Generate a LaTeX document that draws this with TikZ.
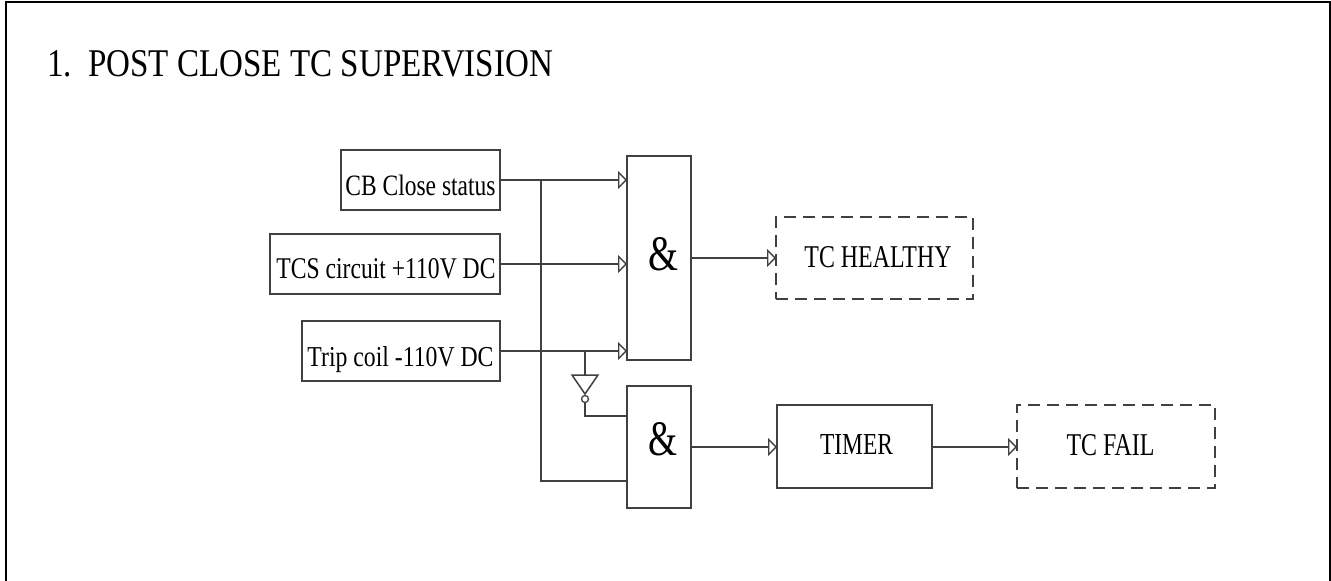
\documentclass[tikz,border=0pt]{standalone}
\usepackage{fontspec}
\setmainfont{Liberation Serif}
\usetikzlibrary{arrows.meta,calc}
\definecolor{ln}{HTML}{404040}
\newcommand{\txt}[3]{\resizebox{#1pt}{#2pt}{#3}}
\tikzset{
  every node/.style={inner sep=0pt,outer sep=0pt,text=black},
  blk/.style={draw=ln,line width=1.5pt,rectangle,minimum width=#1,anchor=north west},
  dbox/.style={blk=#1,dash pattern=on 12pt off 7pt},
  wire/.style={draw=ln,line width=1.5pt},
  arr/.style={wire,-{Triangle[open,length=9pt,width=18pt,line width=1.3pt]}},
}
\begin{document}
\begin{tikzpicture}[x=1pt,y=-1pt]
\useasboundingbox (0,0) rectangle (1331,581);
\draw[black,line width=2.4pt] (6,581) -- (6,2) -- (1330,2) -- (1330,581);
\node[anchor=base west] (title) at (47,76) {\txt{506}{26}{1.~~POST CLOSE TC SUPERVISION}};
\node[blk=159pt,minimum height=60pt] (cb) at (341,150) {};
\node[blk=230pt,minimum height=60pt] (tcs) at (270,234) {};
\node[blk=198pt,minimum height=60pt] (trip) at (302,321) {};
\node[blk=64pt,minimum height=204pt] (and1) at (627,156) {};
\node[blk=64pt,minimum height=122pt] (and2) at (627,386) {};
\node[dbox=197pt,minimum height=82pt] (healthy) at (776,217) {};
\node[blk=155pt,minimum height=83pt] (timer) at (777,405) {};
\node[dbox=198pt,minimum height=83pt] (fail) at (1017,405) {};
\node (tcb) at (420.5,195) [anchor=base] {\txt{150}{20.5}{CB Close status}};
\node (ttcs) at (386,278) [anchor=base] {\txt{219}{20}{TCS circuit +110V DC}};
\node (ttrip) at (400.5,366) [anchor=base] {\txt{186}{20}{Trip coil -110V DC}};
\node (ta1) at (663,270.5) [anchor=base] {\txt{30}{33}{\&}};
\node (ta2) at (662.5,455.5) [anchor=base] {\txt{29}{33}{\&}};
\node (th) at (878,267) [anchor=base] {\txt{147}{21}{TC HEALTHY}};
\node (tt) at (856.5,454) [anchor=base] {\txt{73}{20}{TIMER}};
\node (tf) at (1110.5,455) [anchor=base] {\txt{88}{21}{TC FAIL}};
\draw[arr] (cb.east) -- (cb.east -| and1.west);
\draw[arr] (tcs.east) -- (tcs.east -| and1.west);
\draw[arr] (trip.east) -- (trip.east -| and1.west);
\draw[arr] (and1.east) -- (and1.east -| healthy.west);
\draw[arr] ($(and2.east)+(0,0)$) -- (and2.east -| timer.west);
\draw[arr] ($(timer.east)+(0,.5)$) -- ($(fail.west)+(0,.5)$);
\coordinate (j1) at (541,180);
\coordinate (j2) at (541,481);
\coordinate (j3) at (585,351);
\coordinate (ia) at (572,375);
\coordinate (ib) at (598,375);
\coordinate (ic) at (585,394);
\coordinate (id) at (585,416);
\draw[wire] (j1) -- (j2) -- (j2 -| and2.west);
\draw[wire] (j3) -- (585,375);
\draw[wire,line join=miter] (ia) -- (ib) -- (ic) -- cycle;
\node[draw=ln,line width=1.3pt,circle,minimum size=7pt,fill=white] (bub) at (585,399) {};
\draw[wire] (bub.south) -- (id) -- (id -| and2.west);
\end{tikzpicture}
\end{document}
